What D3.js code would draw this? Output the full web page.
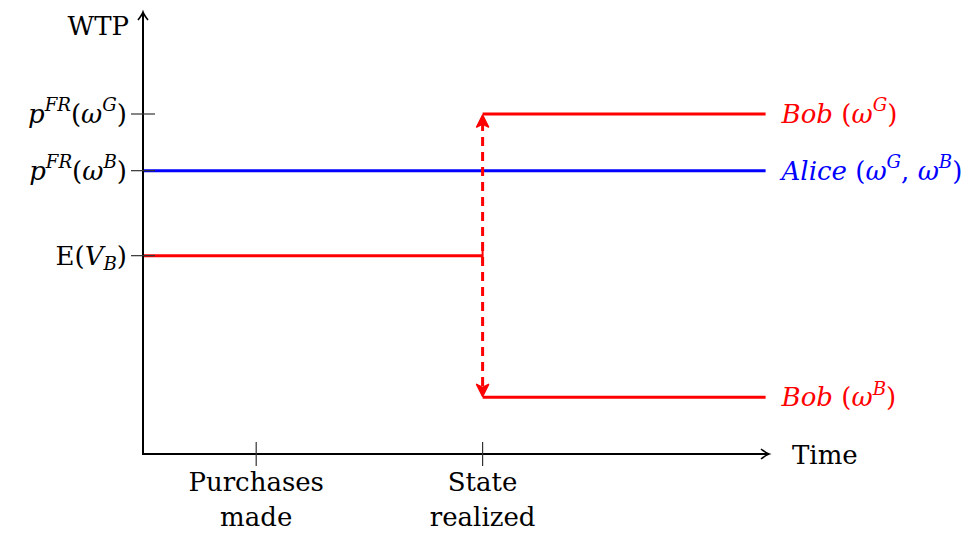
<!DOCTYPE html>
<html>
<head>
<meta charset="utf-8">
<script src="https://cdn.jsdelivr.net/npm/d3@7"></script>
<style>
  body { margin: 0; background: #fff; }
  svg { display: block; }
  text { font-family: "DejaVu Serif", "Liberation Serif", serif; font-size: 26px; }
</style>
</head>
<body>
<svg id="chart" width="977" height="533"></svg>
<script>
// ---- data ----
// time axis
const timeDomain = [0, 5.53];
const timeTicks = [1, 3];
const timeTickLabels = [["Purchases", "made"], ["State", "realized"]];

// willingness-to-pay axis
const wtpDomain = [0, 7.8];
const wtpTicks = [6, 5, 3.5];
const wtpTickLabels = [
  [{t: "p", i: 1}, {t: "FR", i: 1, s: "sup"}, {t: "("}, {t: "ω", i: 1}, {t: "G", i: 1, s: "sup"}, {t: ")"}],
  [{t: "p", i: 1}, {t: "FR", i: 1, s: "sup"}, {t: "("}, {t: "ω", i: 1}, {t: "B", i: 1, s: "sup"}, {t: ")"}],
  [{t: "E("}, {t: "V", i: 1}, {t: "B", i: 1, s: "sub"}, {t: ")"}]
];

// WTP paths over time
const stateTime = 3;
const endTime = 5.5;
const segNames = ["alice", "bobBefore", "bobGood", "bobBad"];
const segFrom = [0, 0, stateTime, stateTime];
const segTo = [endTime, stateTime, endTime, endTime];
const segValues = [5, 3.5, 6, 1];
const segLabels = [
  [{t: "Alice", i: 1}, {t: " ("}, {t: "ω", i: 1}, {t: "G", i: 1, s: "sup"}, {t: ", "}, {t: "ω", i: 1}, {t: "B", i: 1, s: "sup"}, {t: ")"}],
  null,
  [{t: "Bob", i: 1}, {t: " ("}, {t: "ω", i: 1}, {t: "G", i: 1, s: "sup"}, {t: ")"}],
  [{t: "Bob", i: 1}, {t: " ("}, {t: "ω", i: 1}, {t: "B", i: 1, s: "sup"}, {t: ")"}]
];

// ---- drawing ----
const colors = {alice: "#0000ff", bobBefore: "#ff0000", bobGood: "#ff0000", bobBad: "#ff0000"};
const svg = d3.select("#chart");
const fs = 26;

const x = d3.scaleLinear().domain(timeDomain).range([143, 769]);
const y = d3.scaleLinear().domain(wtpDomain).range([454, 12]);

// writes a run of roman/italic pieces with super- and subscripts
function richText(sel, parts) {
  let shift = 0;
  parts.forEach(p => {
    const target = p.s === "sup" ? -0.45 * fs : p.s === "sub" ? 0.22 * fs : 0;
    const ts = sel.append("tspan").text(p.t);
    if (target - shift !== 0) ts.attr("dy", target - shift);
    shift = target;
    if (p.i) ts.attr("font-style", "italic");
    if (p.s) ts.attr("font-size", fs * 0.7);
  });
}

// axis arrow head, tip at (0,0) pointing in +x direction
const axisArrow = "M-8,-5 Q-3,-1 0,0 Q-3,1 -8,5";

// segments
segNames.forEach((n, k) => {
  svg.append("line")
    .attr("x1", x(segFrom[k])).attr("x2", x(segTo[k]))
    .attr("y1", y(segValues[k])).attr("y2", y(segValues[k]))
    .attr("stroke", colors[n]).attr("stroke-width", 3);
});

// bar at the end of the pre-state line
svg.append("line")
  .attr("x1", x(stateTime)).attr("x2", x(stateTime))
  .attr("y1", y(segValues[1]) - 8).attr("y2", y(segValues[1]) + 8)
  .attr("stroke", colors.bobBefore).attr("stroke-width", 2);

// dashed double arrow showing the resolution of the state
const yTop = y(segValues[2]), yBot = y(segValues[3]);
svg.append("line")
  .attr("x1", x(stateTime)).attr("x2", x(stateTime))
  .attr("y1", yTop + 8).attr("y2", yBot - 8)
  .attr("stroke", "#ff0000").attr("stroke-width", 3)
  .attr("stroke-dasharray", "9,6");
const headPath = "M0,0 L-6,12 L0,9 L6,12 Z";
svg.append("path").attr("d", headPath)
  .attr("transform", `translate(${x(stateTime)},${yTop + 1})`)
  .attr("fill", "#ff0000").attr("stroke", "#ff0000").attr("stroke-width", 1.5).attr("stroke-linejoin", "round");
svg.append("path").attr("d", headPath)
  .attr("transform", `translate(${x(stateTime)},${yBot - 1}) rotate(180)`)
  .attr("fill", "#ff0000").attr("stroke", "#ff0000").attr("stroke-width", 1.5).attr("stroke-linejoin", "round");

// axes
const axisG = svg.append("g").attr("stroke", "#000").attr("fill", "none");
axisG.append("line")
  .attr("x1", x(0)).attr("x2", x(timeDomain[1]) - 1)
  .attr("y1", y(0)).attr("y2", y(0)).attr("stroke-width", 2);
axisG.append("path").attr("d", axisArrow)
  .attr("transform", `translate(${x(timeDomain[1])},${y(0)})`).attr("stroke-width", 1.6);
axisG.append("line")
  .attr("x1", x(0)).attr("x2", x(0))
  .attr("y1", y(0) + 1).attr("y2", y(wtpDomain[1]) + 1).attr("stroke-width", 2);
axisG.append("path").attr("d", axisArrow)
  .attr("transform", `translate(${x(0)},${y(wtpDomain[1])}) rotate(-90)`).attr("stroke-width", 1.6);

// ticks
const tickG = svg.append("g").attr("stroke", "#333").attr("stroke-width", 1.2);
timeTicks.forEach(t => {
  tickG.append("line").attr("x1", x(t)).attr("x2", x(t))
    .attr("y1", y(0) - 12).attr("y2", y(0) + 12);
});
wtpTicks.forEach(v => {
  tickG.append("line").attr("x1", x(0) - 12).attr("x2", x(0) + 12)
    .attr("y1", y(v)).attr("y2", y(v));
});

// time tick labels
timeTicks.forEach((t, k) => {
  timeTickLabels[k].forEach((line, j) => {
    svg.append("text").attr("x", x(t)).attr("y", 491 + j * 35)
      .attr("text-anchor", "middle").text(line);
  });
});

// WTP tick labels
wtpTicks.forEach((v, k) => {
  const tx = svg.append("text").attr("x", x(0) - 16).attr("y", y(v) + 9)
    .attr("text-anchor", "end");
  richText(tx, wtpTickLabels[k]);
});

// axis titles
svg.append("text").attr("x", x(0) - 14).attr("y", 35).attr("text-anchor", "end").text("WTP");
svg.append("text").attr("x", 792).attr("y", 464).text("Time");

// series labels
segNames.forEach((n, k) => {
  if (!segLabels[k]) return;
  const tx = svg.append("text").attr("x", x(segTo[k]) + 16).attr("y", y(segValues[k]) + 9)
    .attr("fill", colors[n]);
  richText(tx, segLabels[k]);
});
</script>
</body>
</html>
